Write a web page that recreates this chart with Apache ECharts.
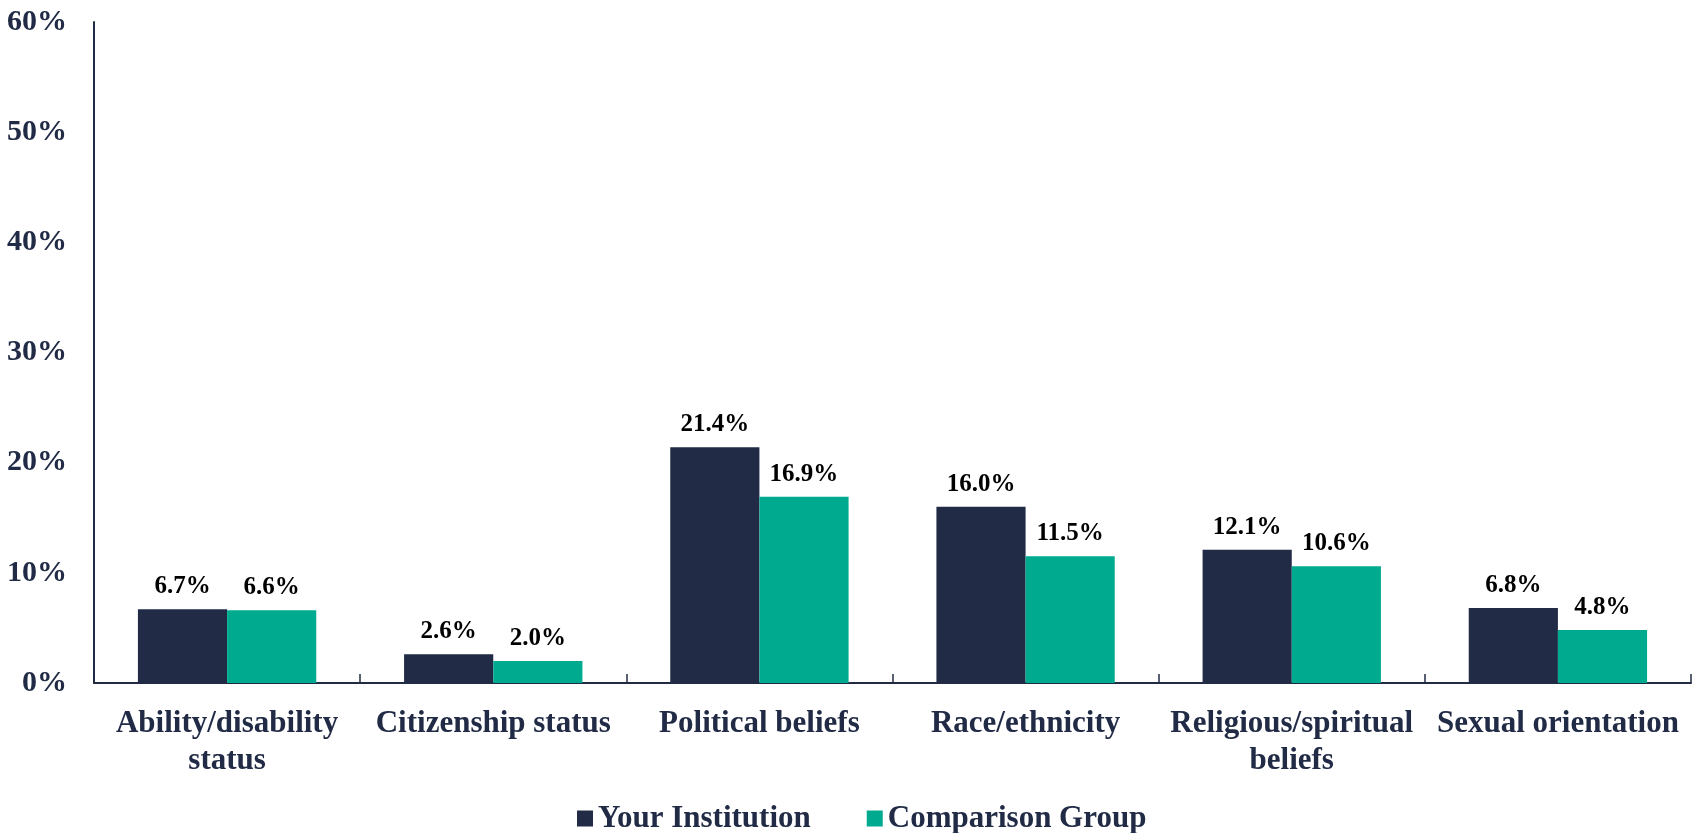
<!DOCTYPE html>
<html>
<head>
<meta charset="utf-8">
<script src="https://cdn.jsdelivr.net/npm/echarts@6/dist/echarts.min.js"></script>
<style>
  html, body { margin: 0; padding: 0; background: #fff; }
  #main { width: 1700px; height: 833px; }
</style>
</head>
<body>
<div id="main"></div>
<script>
var categories = ['Ability/disability\nstatus', 'Citizenship status', 'Political beliefs',
    'Race/ethnicity', 'Religious/spiritual\nbeliefs', 'Sexual orientation'];
var yourInstitution = [6.7, 2.6, 21.4, 16.0, 12.1, 6.8];
var comparisonGroup = [6.6, 2.0, 16.9, 11.5, 10.6, 4.8];
var seriesNames = ['Your Institution', 'Comparison Group'];

var navy = '#212b46';
var teal = '#00aa8e';
var font = '"Liberation Serif", "DejaVu Serif", serif';

var myChart = echarts.init(document.getElementById('main'));

var labelStyle = {
    show: true,
    position: 'top',
    distance: 10,
    color: '#000',
    fontFamily: font,
    fontWeight: 'bold',
    fontSize: 25,
    formatter: function (p) { return p.value.toFixed(1) + '%'; }
};

var option = {
    animation: false,
    textStyle: { fontFamily: font },
    grid: { left: 94, right: 9, top: 22, bottom: 150, containLabel: false },
    legend: {
        top: 798,
        left: 572,
        itemWidth: 16,
        itemHeight: 16,
        itemGap: 56,
        icon: 'rect',
        data: seriesNames,
        textStyle: { color: navy, fontFamily: font, fontWeight: 'bold', fontSize: 31 }
    },
    xAxis: {
        type: 'category',
        data: categories,
        axisLine: { lineStyle: { color: navy, width: 2 } },
        axisTick: { show: true, inside: true, length: 9, lineStyle: { color: navy, width: 1.5 } },
        axisLabel: {
            color: navy, fontFamily: font, fontWeight: 'bold', fontSize: 31,
            lineHeight: 37, margin: 22, interval: 0
        }
    },
    yAxis: {
        type: 'value',
        min: 0,
        max: 60,
        interval: 10,
        splitLine: { show: false },
        axisTick: { show: false },
        axisLine: { show: true, lineStyle: { color: navy, width: 2 } },
        axisLabel: {
            color: navy, fontFamily: font, fontWeight: 'bold', fontSize: 30, margin: 27,
            formatter: '{value}%'
        }
    },
    series: [{
        name: seriesNames[0],
        type: 'bar',
        data: yourInstitution,
        barGap: '0%',
        barCategoryGap: '33%',
        itemStyle: { color: navy },
        label: labelStyle
    }, {
        name: seriesNames[1],
        type: 'bar',
        data: comparisonGroup,
        barGap: '0%',
        barCategoryGap: '33%',
        itemStyle: { color: teal },
        label: labelStyle
    }]
};

myChart.setOption(option);
</script>
</body>
</html>
